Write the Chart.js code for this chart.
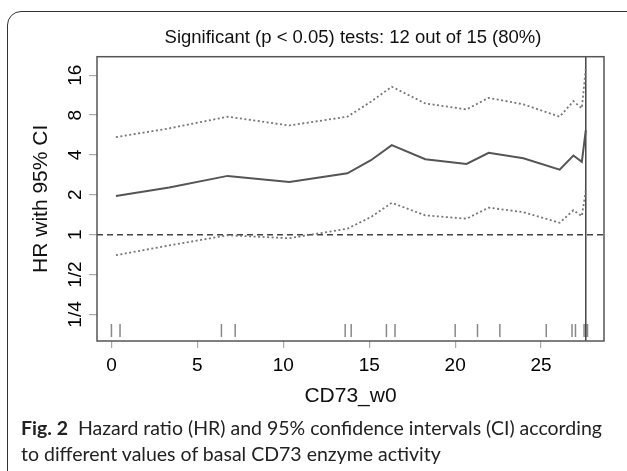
<!DOCTYPE html>
<html>
<head>
<meta charset="utf-8">
<script src="https://cdn.jsdelivr.net/npm/chart.js@4.4.0/dist/chart.umd.min.js"></script>
<style>
  html, body { margin: 0; padding: 0; background: #fff; }
  #wrap { position: relative; width: 627px; height: 471px; overflow: hidden; }
  #frame { position: absolute; left: 7px; top: 11px; width: 660px; height: 520px;
           border: 1.5px solid #333; border-radius: 14px; }
  #chart { position: absolute; left: 0; top: 0; }
  .cap { position: absolute; left: 21px; font-family: Lato, sans-serif; font-size: 19.5px;
         line-height: 19.5px; color: #222; white-space: nowrap; }
  #cap1 { top: 418px; }
  #cap2 { top: 444px; }
</style>
</head>
<body>
<div id="wrap">
  <div id="frame"></div>
  <canvas id="chart" width="627" height="471"></canvas>
  <div class="cap" id="cap1"><b>Fig. 2</b>&nbsp; Hazard ratio (HR) and 95% confidence intervals (CI) according</div>
  <div class="cap" id="cap2">to different values of basal CD73 enzyme activity</div>
</div>
<script>
// cut points and estimates
const xValues  = [0.26, 3.36, 6.76, 10.35, 13.73, 15.1, 16.31, 18.26, 20.66, 21.95, 23.97, 26.08, 26.88, 27.37, 27.6];
const hrValues = [1.96, 2.27, 2.78, 2.50, 2.91, 3.65, 4.75, 3.71, 3.42, 4.15, 3.78, 3.10, 3.96, 3.55, 6.16];
const upperCI  = [5.45, 6.35, 7.78, 6.68, 7.78, 10.1, 13.1, 9.8, 8.83, 10.8, 9.64, 7.78, 10.2, 9.0, 18.0];
const lowerCI  = [0.70, 0.83, 0.99, 0.94, 1.11, 1.36, 1.74, 1.40, 1.32, 1.60, 1.48, 1.23, 1.53, 1.38, 2.16];
const rugValues = [0, 0.5, 6.4, 7.2, 13.6, 13.95, 16.0, 16.5, 20.0, 21.3, 22.6, 25.3, 26.8, 27.0, 27.5, 27.6, 27.7];
const cutoff = 27.6;

const xTicks = [0, 5, 10, 15, 20, 25];
const yTicks = [0.25, 0.5, 1, 2, 4, 8, 16];
const yTickLabels = ['1/4', '1/2', '1', '2', '4', '8', '16'];
const titleText = 'Significant (p < 0.05) tests: 12 out of 15 (80%)';

const xMin = -0.84, xMax = 28.66;
const yMin = 0.1575, yMax = 22.08;
const rugY = 0.189;

const toPts = (xs, ys) => xs.map((x, i) => ({ x: x, y: ys[i] }));

// plot frame + main title (R style)
const boxPlugin = {
  id: 'box',
  afterDraw(chart) {
    const { ctx, chartArea: a } = chart;
    ctx.save();
    ctx.strokeStyle = '#555';
    ctx.lineWidth = 1.5;
    ctx.strokeRect(a.left, a.top, a.right - a.left, a.bottom - a.top);
    ctx.fillStyle = '#111';
    ctx.font = '18.5px "Liberation Sans"';
    ctx.textAlign = 'center';
    ctx.textBaseline = 'middle';
    ctx.fillText(titleText, 353, 38);
    ctx.restore();
  }
};

const dotted = { borderColor: '#777', borderWidth: 1.8, borderDash: [2, 2.5], showLine: true, pointRadius: 0, tension: 0 };

new Chart(document.getElementById('chart'), {
  type: 'scatter',
  data: {
    datasets: [
      Object.assign({ data: toPts(xValues, upperCI) }, dotted),
      Object.assign({ data: toPts(xValues, lowerCI) }, dotted),
      { data: toPts(xValues, hrValues), borderColor: '#555', borderWidth: 2, showLine: true, pointRadius: 0 },
      { data: [{ x: xMin, y: 1 }, { x: xMax, y: 1 }], borderColor: '#444', borderWidth: 1.5,
        borderDash: [6, 4], showLine: true, pointRadius: 0 },
      { data: [{ x: cutoff, y: yMin }, { x: cutoff, y: yMax }], borderColor: '#444', borderWidth: 1.5,
        showLine: true, pointRadius: 0 },
      { data: rugValues.map(v => ({ x: v, y: rugY })), pointStyle: 'line', rotation: 90,
        radius: 6.5, borderColor: '#888', borderWidth: 1.5, backgroundColor: '#888' }
    ]
  },
  options: {
    responsive: false,
    animation: false,
    devicePixelRatio: 1,
    layout: { padding: { left: 0, top: 56.7, right: 23, bottom: 60 } },
    plugins: { legend: { display: false }, tooltip: { enabled: false } },
    scales: {
      x: {
        type: 'linear', min: xMin, max: xMax,
        afterBuildTicks: s => { s.ticks = xTicks.map(v => ({ value: v })); },
        afterFit: s => { s.height = 70; },
        border: { display: false },
        grid: { drawOnChartArea: false, tickLength: 7, color: '#aaa', lineWidth: 1.2 },
        ticks: { padding: 6, color: '#000', font: { family: 'Liberation Sans', size: 19 } },
        title: { display: true, text: 'CD73_w0', color: '#111',
                 font: { family: 'Liberation Sans', size: 21 }, padding: { top: 0, bottom: 2 } }
      },
      y: {
        type: 'logarithmic', min: yMin, max: yMax,
        afterBuildTicks: s => { s.ticks = yTicks.map(v => ({ value: v })); },
        afterFit: s => { s.width = 97; },
        border: { display: false },
        grid: { drawOnChartArea: false, tickLength: 8, color: '#aaa', lineWidth: 1.2 },
        ticks: {
          minRotation: 90, maxRotation: 90, crossAlign: 'center', padding: 0.5,
          color: '#000', font: { family: 'Liberation Sans', size: 19 },
          callback: (v, i) => yTickLabels[i]
        },
        title: { display: true, text: 'HR with 95% CI', color: '#111',
                 font: { family: 'Liberation Sans', size: 21 }, padding: { top: 28.4, bottom: 0 } }
      }
    }
  },
  plugins: [boxPlugin]
});
</script>
</body>
</html>
